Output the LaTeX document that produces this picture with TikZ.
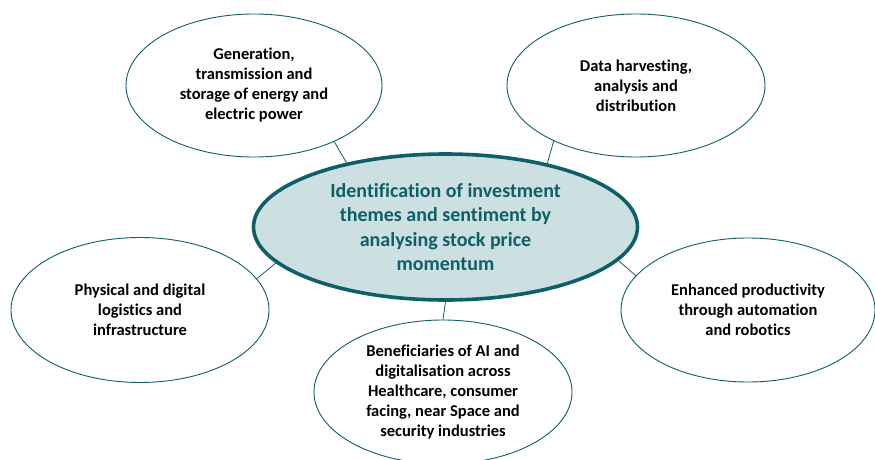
\documentclass[tikz,border=0pt]{standalone}
\usepackage{fontspec}
\setmainfont[Ligatures=NoCommon]{Carlito}
\usepackage{tikz}
\usetikzlibrary{shapes.geometric}
\definecolor{tealdark}{HTML}{0F5F68}
\definecolor{teallight}{HTML}{CCDFE1}
\tikzset{
    theme/.style={ellipse, draw=tealdark, line width=0.9pt, fill=white,
        inner sep=0pt, align=center, text=black,
        font=\fontsize{16.5}{20}\selectfont\bfseries},
    hub/.style={ellipse, draw=tealdark, line width=3.6pt, fill=teallight,
        inner sep=0pt, align=center, text=tealdark,
        minimum width=384pt, minimum height=146pt,
        font=\fontsize{20}{24.5}\selectfont\bfseries},
    link/.style={draw=tealdark, line width=0.8pt},
}
\begin{document}
\begin{tikzpicture}[x=1pt, y=1pt]
\useasboundingbox (0,0) rectangle (875,459);
\node[hub] (momentum) at (445.5,232) {Identification of investment\\themes and sentiment by\\analysing stock price\\momentum};
\node[theme, minimum width=256pt, minimum height=143pt] (energy) at (254,373.5) {Generation,\\transmission and\\storage of energy and\\electric power};
\node[theme, minimum width=258pt, minimum height=143pt] (data) at (636,373.5) {Data harvesting,\\analysis and\\distribution};
\node[theme, minimum width=258pt, minimum height=145pt] (logistics) at (140,149) {Physical and digital\\logistics and\\infrastructure};
\node[theme, minimum width=254pt, minimum height=144pt] (robotics) at (748,149) {Enhanced productivity\\through automation\\and robotics};
\node[theme, minimum width=258pt, minimum height=144pt] (ai) at (443,67) {Beneficiaries of AI and\\digitalisation across\\Healthcare, consumer\\facing, near Space and\\security industries};
\draw[link] (energy.-35) -- (momentum.147.6);
\draw[link] (data.214) -- (momentum.32.4);
\draw[link] (logistics.15) -- (momentum.192);
\draw[link] (robotics.163) -- (momentum.-11);
\draw[link] (ai.north) -- (momentum.south);
\end{tikzpicture}
\end{document}
